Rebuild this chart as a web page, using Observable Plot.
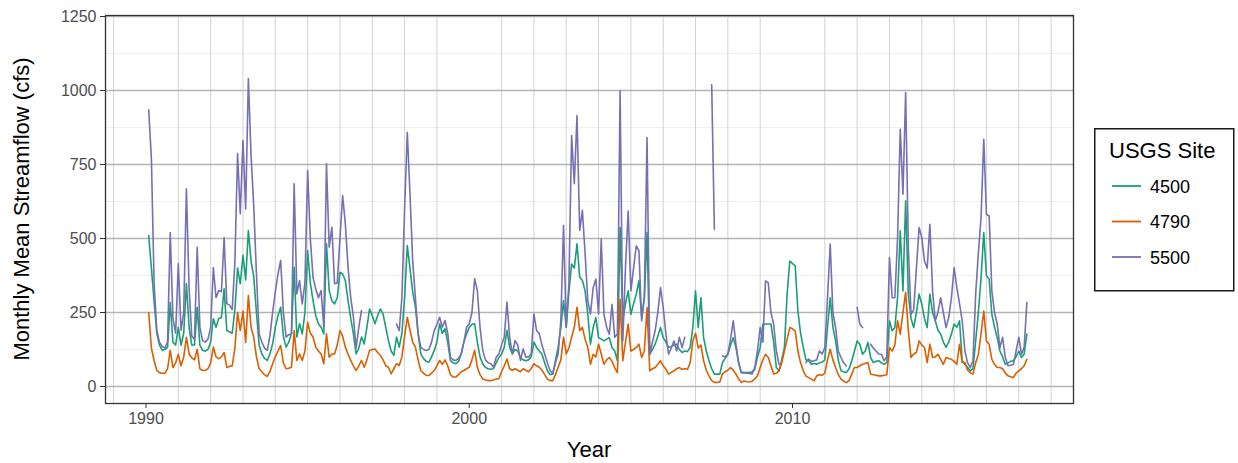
<!DOCTYPE html>
<html><head><meta charset="utf-8">
<script src="https://cdn.jsdelivr.net/npm/d3@7"></script>
<script src="https://cdn.jsdelivr.net/npm/@observablehq/plot@0.6"></script>
<style>
html,body{margin:0;padding:0;background:#fff;}
#wrap{position:relative;width:1238px;height:463px;font-family:"Liberation Sans",Arial,sans-serif;}
#leg{position:absolute;left:1094px;top:128px;}
</style></head>
<body><div id="wrap"></div>
<script>
// USGS sites and colours
const sites = ["4500", "4790", "5500"];
const siteColors = ["#1b9e77", "#d95f02", "#7570b3"];
// first observation: February 1990 (month index 1, zero-based)
const firstYear = 1990;
const firstMonth = 1;

// Monthly mean streamflow (cfs), Feb 1990 – Apr 2017, one row per calendar year
const flow4500 = [
 510,400,290,180,140,122,125,132,284,150,140,
 200,140,180,347,200,140,140,268,140,122,120,125,
 150,229,200,230,233,330,189,185,180,260,400,347,
 443,360,527,424,370,250,140,110,95,88,110,144,
 200,240,268,170,133,150,178,403,167,212,178,250,
 459,350,291,240,212,200,178,482,324,290,279,300,
 386,380,358,290,230,178,110,130,167,144,200,262,
 240,212,240,262,245,200,155,120,105,167,133,180,
 300,476,400,320,270,180,110,95,85,82,100,122,
 150,212,180,195,150,88,80,77,85,109,150,177,
 200,210,212,150,100,77,64,60,58,60,80,98,
 109,133,190,132,110,125,120,98,90,87,90,100,
 150,132,120,109,80,53,40,42,87,132,199,290,
 200,320,414,400,482,370,358,323,245,143,199,233,
 165,160,154,160,165,132,120,87,537,222,280,323,
 244,280,312,357,233,300,520,109,125,143,170,199,
 165,150,132,135,140,143,125,115,120,118,132,200,
 323,199,300,165,120,87,60,42,42,42,81,95,
 109,140,165,132,80,47,47,47,47,50,58,100,
 132,211,211,211,211,150,64,53,90,132,312,424,
 415,408,256,180,132,90,87,75,78,75,80,82,
 90,200,300,200,154,90,53,50,47,60,87,120,
 154,143,109,120,149,98,81,85,87,80,75,81,
 222,188,199,300,526,323,627,312,230,199,250,312,
 278,230,199,312,250,222,190,177,150,132,150,177,
 211,200,222,87,75,64,53,60,154,250,368,520,
 374,363,244,200,165,120,100,75,80,85,87,100,
 120,98,110,177
];
const flow4790 = [
 250,130,88,55,47,45,45,60,122,64,80,
 109,70,100,166,110,97,90,126,60,54,55,60,
 80,133,100,94,100,115,64,68,70,130,250,189,
 255,149,307,200,166,100,60,50,40,34,50,77,
 100,120,138,80,60,62,65,189,88,110,88,120,
 217,180,167,133,120,110,77,178,99,110,110,140,
 189,170,133,110,88,70,54,70,88,65,90,122,
 125,127,115,105,90,70,65,43,60,77,71,100,
 170,234,190,150,133,90,54,45,38,37,45,54,
 70,88,75,90,70,40,32,32,40,50,54,60,
 65,90,122,65,40,26,22,20,20,22,25,26,
 50,70,93,60,55,60,55,50,60,55,50,60,
 77,70,65,55,40,25,20,20,40,65,90,167,
 110,130,167,200,268,189,200,160,133,75,109,100,
 143,110,75,90,98,85,64,47,295,87,150,211,
 120,125,132,143,98,120,267,53,60,64,75,87,
 70,58,42,48,53,60,64,58,60,58,80,154,
 180,130,140,87,55,36,20,14,14,15,42,50,
 55,64,55,42,25,14,19,16,15,18,25,36,
 64,90,109,98,70,42,45,53,80,120,160,199,
 195,188,120,80,53,35,30,25,19,36,40,38,
 45,90,126,90,64,40,25,18,13,20,42,64,
 64,70,75,78,81,42,40,38,36,36,38,40,
 132,120,140,222,177,250,318,188,98,110,115,154,
 140,132,81,143,98,100,109,92,75,98,95,92,
 85,75,143,81,81,55,47,42,80,109,180,255,
 154,143,92,75,64,64,60,45,36,33,30,45,
 53,60,70,92
];
const flow5500 = [
 935,770,350,190,150,135,130,150,520,230,180,
 415,190,250,668,330,170,160,470,200,155,150,160,
 200,402,300,324,320,503,280,275,260,420,787,584,
 831,600,1040,780,610,380,178,150,130,122,170,250,
 320,380,426,250,167,175,178,685,313,358,279,350,
 730,500,369,330,300,324,200,752,471,538,347,350,
 500,645,550,403,300,234,130,200,257,null,null,null,
 null,null,null,null,null,null,null,null,null,211,189,300,
 600,859,650,426,300,180,133,125,122,125,150,189,
 210,234,200,223,180,99,90,88,95,110,150,200,
 212,250,364,324,200,122,90,80,77,65,99,110,
 140,167,285,167,110,155,140,88,127,100,100,110,
 245,189,178,140,110,80,54,43,80,110,223,544,
 200,347,848,685,915,527,595,450,290,245,334,363,
 244,498,244,200,177,278,166,178,999,154,403,593,
 323,400,475,458,222,300,841,109,150,188,250,334,
 267,177,109,130,154,120,166,132,166,null,null,null,
 null,null,null,null,null,null,1019,531,null,null,104,100,
 109,160,222,143,80,47,47,45,44,42,65,120,
 199,150,357,351,250,211,120,75,null,null,null,null,
 null,null,null,null,null,81,93,85,87,90,120,110,
 132,300,481,250,199,120,98,80,70,null,null,null,
 267,210,199,null,null,143,130,120,110,109,87,100,
 436,300,300,500,869,650,993,470,244,260,400,537,
 503,424,400,548,323,222,250,300,250,199,233,300,
 402,334,280,222,120,80,64,87,312,450,571,835,
 582,576,323,250,211,132,166,98,70,72,75,120,
 166,109,132,284
];

const yTicks = [0, 250, 500, 750, 1000, 1250];
const yMinor = [125, 375, 625, 875, 1125];
const xTicks = [1990, 2000, 2010];
const xLabel = "Year";
const yLabel = "Monthly Mean Streamflow (cfs)";
const legendTitle = "USGS Site";

const series = [flow4500, flow4790, flow5500];
const rows = [];
sites.forEach((s, k) => series[k].forEach((v, i) => {
  rows.push({site: s, t: firstYear + (firstMonth + i) / 12, v: v});
}));
const gridYears = d3.range(1989, 2019).filter(y => y % 10 !== 0);

const chart = Plot.plot({
  width: 1238, height: 463,
  marginLeft: 105, marginRight: 165, marginTop: 15, marginBottom: 60,
  style: {fontFamily: "'Liberation Sans', Arial, sans-serif", fontSize: "16px", background: "#fff"},
  x: {domain: [1988.747, 2018.693], label: null},
  y: {domain: [-57.4, 1253.4], label: null},
  color: {domain: sites, range: siteColors},
  marks: [
    Plot.ruleY(yMinor, {stroke: "#ececec", strokeWidth: 0.8}),
    Plot.ruleX(gridYears, {stroke: "#d3d3d3", strokeWidth: 1}),
    Plot.ruleY(yTicks, {stroke: "#b5b5b5", strokeWidth: 1.4}),
    Plot.line(rows, {x: "t", y: "v", z: "site", stroke: "site", strokeWidth: 1.6, curve: "linear"}),
    Plot.frame({stroke: "#333", strokeWidth: 1.3}),
    Plot.axisX(xTicks, {tickFormat: d => String(d), tickSize: 5, tickPadding: 4, fontSize: 16, stroke: "#333", fill: "#4d4d4d", label: null}),
    Plot.axisY(yTicks, {tickFormat: d => String(d), tickSize: 5, tickPadding: 4, fontSize: 16, stroke: "#333", fill: "#4d4d4d", label: null})
  ]
});
document.getElementById("wrap").appendChild(chart);

const svg = d3.select(chart);
svg.append("text")
  .attr("transform", "translate(29,209) rotate(-90)")
  .attr("text-anchor", "middle")
  .attr("font-size", 22).attr("fill", "#000")
  .text(yLabel);
svg.append("text")
  .attr("x", 589).attr("y", 457)
  .attr("text-anchor", "middle")
  .attr("font-size", 22).attr("fill", "#000")
  .text(xLabel);

// legend
const leg = d3.select("#wrap").append("svg").attr("id", "leg")
  .attr("width", 141).attr("height", 164)
  .style("font-family", "'Liberation Sans', Arial, sans-serif");
leg.append("rect").attr("x", 0.75).attr("y", 0.75).attr("width", 139).attr("height", 162)
  .attr("fill", "#fff").attr("stroke", "#1a1a1a").attr("stroke-width", 1.5);
leg.append("text").attr("x", 15).attr("y", 30).attr("font-size", 22).text(legendTitle);
sites.forEach((s, k) => {
  const y = 58 + k * 35.5;
  leg.append("line").attr("x1", 18).attr("x2", 47).attr("y1", y).attr("y2", y)
    .attr("stroke", siteColors[k]).attr("stroke-width", 1.8);
  leg.append("text").attr("x", 56).attr("y", y + 6.5).attr("font-size", 18).text(s);
});

if (series.some(a => a.length !== 327)) {
  svg.append("text").attr("x", 300).attr("y", 40).attr("fill", "red")
    .text("lengths: " + series.map(a => a.length).join(","));
}
</script>
</body></html>
